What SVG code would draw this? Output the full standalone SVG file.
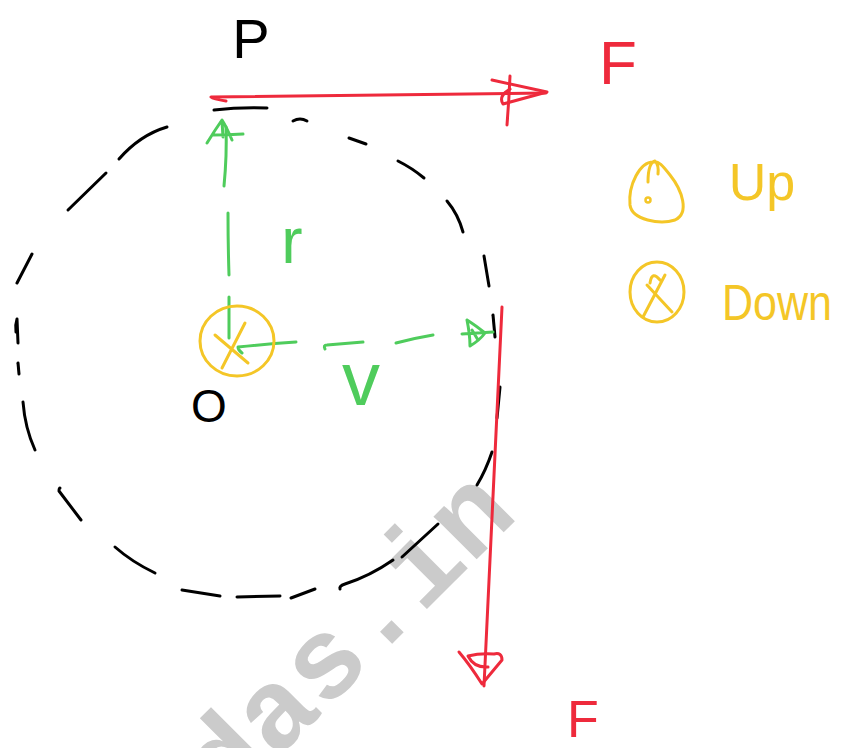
<svg xmlns="http://www.w3.org/2000/svg" width="849" height="748" viewBox="0 0 849 748">
<style>
.bk{fill:none;stroke:#000;stroke-width:3;stroke-linecap:round;stroke-linejoin:round}
.rd{fill:none;stroke:#ee2a3c;stroke-width:3;stroke-linecap:round;stroke-linejoin:round}
.gr{fill:none;stroke:#4fcc5c;stroke-width:3;stroke-linecap:round;stroke-linejoin:round}
.yl{fill:none;stroke:#f4c627;stroke-width:3;stroke-linecap:round;stroke-linejoin:round}
.t{font-family:"Liberation Sans",Arial,sans-serif;text-anchor:middle}
.wm{font-family:"Liberation Mono","Courier New",monospace;font-weight:bold;fill:#cbcbcb}
</style>
<rect width="849" height="748" fill="#fff"/>
<g id="watermark">
<text class="wm" x="227" y="809" font-size="115" transform="rotate(-45 227 809)">das.in</text>
</g>
<g id="orbit" class="bk">
<path d="M214 110 Q240 107 267 108"/>
<path d="M293 121 Q300 117 307 121"/>
<path d="M349 138 L366 144"/>
<path d="M398 161 Q412 168 424 178"/>
<path d="M447 201 Q458 214 463 232"/>
<path d="M484 256 L489 286"/>
<path d="M493 315 L495 337"/>
<path d="M500 387 L497 418"/>
<path d="M492 452 Q486 470 477 485"/>
<path d="M438 524 L402 557"/>
<path d="M393 560 Q370 576 345 584 Q339 586 340 589"/>
<path d="M315 589 L291 598"/>
<path d="M280 596 L237 597"/>
<path d="M220 596 L182 590"/>
<path d="M155 573 Q132 562 115 547"/>
<path d="M81 520 L59 491 Q59 488 60 488"/>
<path d="M35 450 Q25 428 23 402"/>
<path d="M19 374 L18 363"/>
<path d="M17 319 L18 343 M17 319 Q15 325 16 332"/>
<path d="M17 283 L32 254"/>
<path d="M68 210 L106 173"/>
<path d="M119 159 Q140 135 167 127"/>
</g>
<g id="connectors">
<g id="force-top" class="rd">
<path d="M226 101 Q213 99 211 97 Q300 96 546 93"/>
<path d="M492 80 L547 92 L503 104 Q498 96 510 89"/>
<path d="M510 76 Q509 100 507 125"/>
</g>
<g id="force-right" class="rd">
<path d="M502 307 Q492 500 484 686"/>
<path d="M459 652 Q470 665 482 684 L502 660 Q502 652 494 654 Q480 653 468 656 Q474 668 488 667"/>
</g>
<g id="radius" class="gr">
<path d="M229 338 Q229 318 229 297"/>
<path d="M229 275 Q228 244 228 213"/>
<path d="M224 186 Q227 155 226 127"/>
<path d="M207 143 Q215 130 222 120 Q226 126 232 140 M212 135 Q228 135 243 134 M222 121 L223 137"/>
</g>
<g id="velocity" class="gr">
<path d="M242 353 Q238 350 238 347 Q266 344 296 342"/>
<path d="M325 349 Q323 345 327 345 L363 342"/>
<path d="M396 343 Q415 338 433 335"/>
<path d="M462 334 L493 332 M467 320 Q470 335 470 346 Q480 340 485 333 Q475 325 467 320 M472 330 L478 340"/>
</g>
</g>
<g id="label-P"><text class="t" x="251" y="58" font-size="56">P</text></g>
<g id="label-O"><text class="t" x="209" y="422" font-size="46">O</text></g>
<g id="point-O" class="yl">
<ellipse cx="237" cy="341" rx="37" ry="35"/>
<path d="M215 335 L248 363 M245 323 L222 368"/>
</g>
<g id="label-F-top"><text class="t" x="618" y="84" font-size="62" fill="#ee2a3c">F</text></g>
<g id="label-F-bottom"><text class="t" x="583" y="737" font-size="52" fill="#ee2a3c">F</text></g>
<g id="label-r"><text class="t" x="292" y="263" font-size="64" fill="#4fcc5c">r</text></g>
<g id="label-v"><text class="t" x="361" y="405" font-size="76" fill="#4fcc5c">v</text></g>
<g id="legend-up">
<path class="yl" d="M653 162 C640 162 628 185 630 205 C632 220 660 225 675 220 C690 213 682 190 670 175 C663 166 658 160 653 162 Z M648 182 Q648 163 655 161 Q659 165 658 174"/>
<circle cx="648" cy="200" r="2.5" fill="none" stroke="#f4c627" stroke-width="2.5"/>
<text class="t" x="762" y="200" font-size="52" fill="#f4c627">Up</text>
</g>
<g id="legend-down">
<ellipse class="yl" cx="657" cy="292" rx="27" ry="30"/>
<path class="yl" d="M647 285 L672 312 M665 275 L643 317 M650 283 Q652 270 660 280"/>
<text x="722" y="320" font-size="50" textLength="110" lengthAdjust="spacingAndGlyphs" font-family="Liberation Sans, Arial, sans-serif" fill="#f4c627">Down</text>
</g>
</svg>
